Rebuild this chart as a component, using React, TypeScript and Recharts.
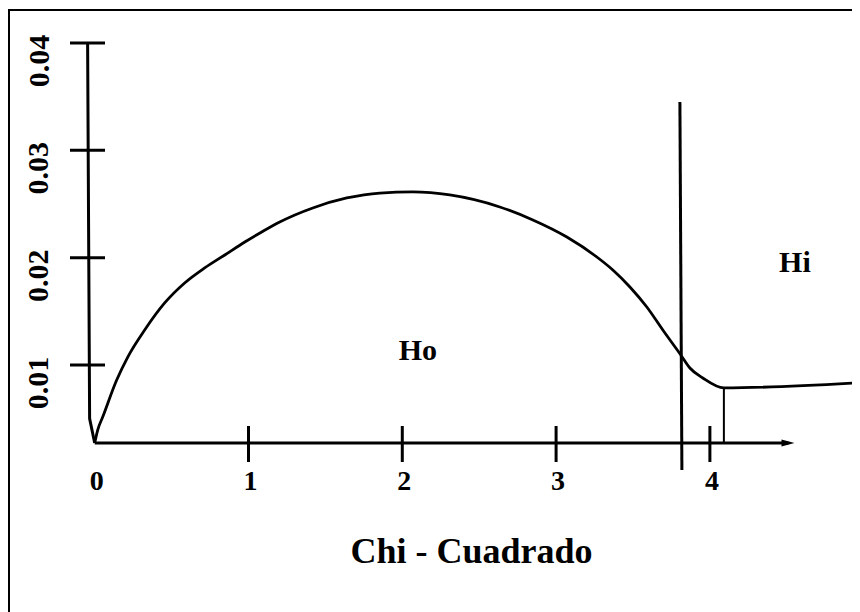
import React from 'react';
import { ComposedChart, Line, XAxis, YAxis, ReferenceLine, ReferenceDot, Label } from 'recharts';

const FONT = '"Liberation Serif", "Times New Roman", serif';

// density curve (chi-square value -> density)
const chiValues = [0, 0.0195, 0.052, 0.143, 0.215, 0.325, 0.455, 0.585, 0.715, 0.846, 0.976, 1.086, 1.203, 1.418, 1.639, 1.854, 2.068, 2.309, 2.634, 2.849, 3.07, 3.265, 3.369, 3.48, 3.59, 3.694, 3.811, 3.87, 3.954, 4.091, 4.943];
const densityValues = [0.00273, 0.00394, 0.00515, 0.0086, 0.01074, 0.01326, 0.01578, 0.01764, 0.01904, 0.02025, 0.02146, 0.02239, 0.02332, 0.02463, 0.02556, 0.02602, 0.02612, 0.02584, 0.02472, 0.02351, 0.02192, 0.02006, 0.01885, 0.01727, 0.0154, 0.01326, 0.01093, 0.00972, 0.00879, 0.00786, 0.00832];

// hand drawn vertical axis (slightly slanted towards the origin)
const axisX = [-0.046, -0.033, 0];
const axisY = [0.04, 0.005, 0.00273];

const xTicks = [0, 1, 2, 3, 4];
const yTicks = [0.01, 0.02, 0.03, 0.04];

const Y_MIN = 0.00273;
const Y_MAX = 0.04;
const X_ARROW_END = 4.55;

// critical value line and the step at the start of the rejection region
const criticalTop = { x: 3.805, y: 0.0345 };
const criticalBottom = { x: 3.818, y: 0.00022 };
const stepX = 4.091;
const stepTop = 0.00786;

const curveData = chiValues.map((x, i) => ({ x, y: densityValues[i] }));
const axisData = axisX.map((x, i) => ({ x, y: axisY[i] }));

const XTick = ({ x, y, payload }: any) => (
  <g>
    {payload.value !== 0 && (
      <line x1={x} y1={y - 17} x2={x} y2={y + 19} stroke="#000" strokeWidth={3} />
    )}
    <text x={x + 2} y={y + 47} textAnchor="middle" fontFamily={FONT} fontWeight="bold" fontSize={28} fill="#000">
      {payload.value}
    </text>
  </g>
);

const YTick = ({ x, y, payload }: any) => {
  const lx = x - 49;
  const ly = y + 18;
  return (
    <g>
      <line x1={x - 17} y1={y} x2={x + 18} y2={y} stroke="#000" strokeWidth={3} />
      <text
        x={lx}
        y={ly}
        transform={`rotate(-90 ${lx} ${ly})`}
        textAnchor="middle"
        dominantBaseline="central"
        fontFamily={FONT}
        fontWeight="bold"
        fontSize={30}
        fill="#000"
      >
        {payload.value.toFixed(2)}
      </text>
    </g>
  );
};

const ArrowAxis = (props: any) => {
  const { x1, y1, x2, y2 } = props;
  return (
    <g>
      <line x1={x1} y1={y1} x2={x2 - 6} y2={y2} stroke="#000" strokeWidth={3} />
      <polygon points={`${x2},${y2} ${x2 - 13},${y2 - 3.5} ${x2 - 13},${y2 + 3.5}`} fill="#000" />
    </g>
  );
};

const textShape = (label: string) => (props: any) => (
  <text x={props.cx} y={props.cy} textAnchor="middle" fontFamily={FONT} fontWeight="bold" fontSize={30} fill="#000">
    {label}
  </text>
);

const App = () => {
  return (
    <div style={{ position: 'relative', width: 852, height: 604 }}>
      <div
        style={{
          position: 'absolute',
          left: 0,
          top: 1,
          width: 852,
          height: 603,
          boxSizing: 'border-box',
          borderLeft: '2px solid #000',
          borderTop: '2px solid #000',
          pointerEvents: 'none',
        }}
      />
      <ComposedChart width={852} height={604} data={curveData} margin={{ top: 35, right: 4, left: 0, bottom: 109 }}>
        <XAxis
          dataKey="x"
          type="number"
          domain={[-0.05, 4.95]}
          ticks={xTicks}
          axisLine={false}
          tickLine={false}
          tickSize={0}
          tickMargin={0}
          height={60}
          tick={<XTick />}
        >
          <Label
            content={({ viewBox }: any) => (
              <text
                x={viewBox.x + viewBox.width / 2}
                y={viewBox.y + 120}
                textAnchor="middle"
                fontFamily={FONT}
                fontWeight="bold"
                fontSize={36}
                fill="#000"
              >
                Chi - Cuadrado
              </text>
            )}
          />
        </XAxis>
        <YAxis
          type="number"
          domain={[Y_MIN, Y_MAX]}
          ticks={yTicks}
          axisLine={false}
          tickLine={false}
          tickSize={0}
          tickMargin={0}
          width={79}
          tick={<YTick />}
        />
        <ReferenceLine
          segment={[{ x: 0, y: Y_MIN }, { x: X_ARROW_END, y: Y_MIN }]}
          ifOverflow="visible"
          shape={ArrowAxis}
        />
        <ReferenceLine
          segment={[criticalTop, criticalBottom]}
          ifOverflow="visible"
          stroke="#000"
          strokeWidth={3}
        />
        <ReferenceLine
          segment={[{ x: stepX, y: Y_MIN }, { x: stepX, y: stepTop }]}
          ifOverflow="visible"
          stroke="#000"
          strokeWidth={2}
        />
        <Line
          data={axisData}
          dataKey="y"
          type="linear"
          stroke="#000"
          strokeWidth={3}
          dot={false}
          isAnimationActive={false}
        />
        <Line
          dataKey="y"
          type="monotone"
          stroke="#000"
          strokeWidth={2.8}
          dot={false}
          isAnimationActive={false}
        />
        <ReferenceDot x={2.101} y={0.01047} r={0} ifOverflow="visible" shape={textShape('Ho')} />
        <ReferenceDot x={4.553} y={0.01866} r={0} ifOverflow="visible" shape={textShape('Hi')} />
      </ComposedChart>
    </div>
  );
};

export default App;
